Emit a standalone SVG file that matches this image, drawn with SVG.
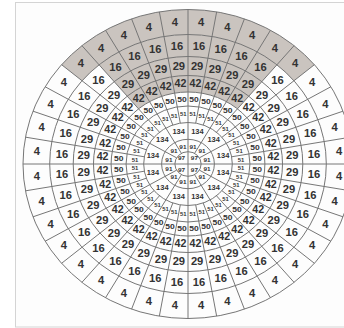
<svg xmlns="http://www.w3.org/2000/svg" width="344" height="328" viewBox="0 0 344 328">
<style>
.ln{stroke:#767676;stroke-width:1;fill:none}
text{font-family:"Liberation Sans",Arial,sans-serif;font-weight:bold;fill:#333333;text-anchor:middle;dominant-baseline:central}
.a text,.b text,.c text{font-size:10.5px}
.d text{font-size:10px}
.e text{font-size:8px}
.f text{font-size:5.5px}
.g text{font-size:7px}
.h text,.i text{font-size:6px}
</style>
<defs>
<line id="l10" x1="41.5" y1="0" x2="154.5" y2="0" stroke="#767676" stroke-width="1" vector-effect="non-scaling-stroke"/>
<line id="l30" x1="12.3" y1="0" x2="41.5" y2="0" stroke="#767676" stroke-width="1" vector-effect="non-scaling-stroke"/>
</defs>
<rect width="344" height="328" fill="#ffffff"/>
<rect x="15.5" y="2.5" width="340" height="324.5" fill="#fdfdfd" stroke="#d4d4d4"/>
<g transform="translate(188,164) scale(1.068,1)">
<g id="shade" fill="#cac4bf">
<path d="M-118.35-99.31A154.5 154.5 0 0 1 118.35-99.31L99.2-83.24A129.5 129.5 0 0 0-99.2-83.24Z"/>
<path d="M-83.24-99.2A129.5 129.5 0 0 1 83.24-99.2L46.28-55.16A72 72 0 0 0-46.28-55.16Z"/>
</g>
<g id="connectors" class="ln">
<circle r="154.5" vector-effect="non-scaling-stroke"/>
<circle r="129.5" vector-effect="non-scaling-stroke"/>
<circle r="107.5" vector-effect="non-scaling-stroke"/>
<circle r="88.5" vector-effect="non-scaling-stroke"/>
<circle r="72" vector-effect="non-scaling-stroke"/>
<circle r="58" vector-effect="non-scaling-stroke"/>
<circle r="41.5" vector-effect="non-scaling-stroke"/>
<circle r="24.7" vector-effect="non-scaling-stroke"/>
<circle r="12.3" vector-effect="non-scaling-stroke"/>
<use href="#l10"/><use href="#l10" transform="rotate(10)"/><use href="#l10" transform="rotate(20)"/><use href="#l10" transform="rotate(30)"/><use href="#l10" transform="rotate(40)"/><use href="#l10" transform="rotate(50)"/><use href="#l10" transform="rotate(60)"/><use href="#l10" transform="rotate(70)"/><use href="#l10" transform="rotate(80)"/><use href="#l10" transform="rotate(90)"/><use href="#l10" transform="rotate(100)"/><use href="#l10" transform="rotate(110)"/><use href="#l10" transform="rotate(120)"/><use href="#l10" transform="rotate(130)"/><use href="#l10" transform="rotate(140)"/><use href="#l10" transform="rotate(150)"/><use href="#l10" transform="rotate(160)"/><use href="#l10" transform="rotate(170)"/><use href="#l10" transform="rotate(180)"/><use href="#l10" transform="rotate(190)"/><use href="#l10" transform="rotate(200)"/><use href="#l10" transform="rotate(210)"/><use href="#l10" transform="rotate(220)"/><use href="#l10" transform="rotate(230)"/><use href="#l10" transform="rotate(240)"/><use href="#l10" transform="rotate(250)"/><use href="#l10" transform="rotate(260)"/><use href="#l10" transform="rotate(270)"/><use href="#l10" transform="rotate(280)"/><use href="#l10" transform="rotate(290)"/><use href="#l10" transform="rotate(300)"/><use href="#l10" transform="rotate(310)"/><use href="#l10" transform="rotate(320)"/><use href="#l10" transform="rotate(330)"/><use href="#l10" transform="rotate(340)"/><use href="#l10" transform="rotate(350)"/>
<use href="#l30"/><use href="#l30" transform="rotate(30)"/><use href="#l30" transform="rotate(60)"/><use href="#l30" transform="rotate(90)"/><use href="#l30" transform="rotate(120)"/><use href="#l30" transform="rotate(150)"/><use href="#l30" transform="rotate(180)"/><use href="#l30" transform="rotate(210)"/><use href="#l30" transform="rotate(240)"/><use href="#l30" transform="rotate(270)"/><use href="#l30" transform="rotate(300)"/><use href="#l30" transform="rotate(330)"/>
<line x1="-12.3" y1="0" x2="12.3" y2="0" vector-effect="non-scaling-stroke"/>
<line x1="0" y1="-12.3" x2="0" y2="12.3" vector-effect="non-scaling-stroke"/>
</g>
<g id="ring4" class="a">
<text transform="rotate(5)translate(142)rotate(-5)">4</text><text transform="rotate(15)translate(142)rotate(-15)">4</text><text transform="rotate(25)translate(142)rotate(-25)">4</text><text transform="rotate(35)translate(142)rotate(-35)">4</text><text transform="rotate(45)translate(142)rotate(-45)">4</text><text transform="rotate(55)translate(142)rotate(-55)">4</text><text transform="rotate(65)translate(142)rotate(-65)">4</text><text transform="rotate(75)translate(142)rotate(-75)">4</text><text transform="rotate(85)translate(142)rotate(-85)">4</text><text transform="rotate(95)translate(142)rotate(-95)">4</text><text transform="rotate(105)translate(142)rotate(-105)">4</text><text transform="rotate(115)translate(142)rotate(-115)">4</text><text transform="rotate(125)translate(142)rotate(-125)">4</text><text transform="rotate(135)translate(142)rotate(-135)">4</text><text transform="rotate(145)translate(142)rotate(-145)">4</text><text transform="rotate(155)translate(142)rotate(-155)">4</text><text transform="rotate(165)translate(142)rotate(-165)">4</text><text transform="rotate(175)translate(142)rotate(-175)">4</text><text transform="rotate(185)translate(142)rotate(-185)">4</text><text transform="rotate(195)translate(142)rotate(-195)">4</text><text transform="rotate(205)translate(142)rotate(-205)">4</text><text transform="rotate(215)translate(142)rotate(-215)">4</text><text transform="rotate(225)translate(142)rotate(-225)">4</text><text transform="rotate(235)translate(142)rotate(-235)">4</text><text transform="rotate(245)translate(142)rotate(-245)">4</text><text transform="rotate(255)translate(142)rotate(-255)">4</text><text transform="rotate(265)translate(142)rotate(-265)">4</text><text transform="rotate(275)translate(142)rotate(-275)">4</text><text transform="rotate(285)translate(142)rotate(-285)">4</text><text transform="rotate(295)translate(142)rotate(-295)">4</text><text transform="rotate(305)translate(142)rotate(-305)">4</text><text transform="rotate(315)translate(142)rotate(-315)">4</text><text transform="rotate(325)translate(142)rotate(-325)">4</text><text transform="rotate(335)translate(142)rotate(-335)">4</text><text transform="rotate(345)translate(142)rotate(-345)">4</text><text transform="rotate(355)translate(142)rotate(-355)">4</text>
</g>
<g id="ring16" class="b">
<text transform="rotate(5)translate(118.5)rotate(-5)">16</text><text transform="rotate(15)translate(118.5)rotate(-15)">16</text><text transform="rotate(25)translate(118.5)rotate(-25)">16</text><text transform="rotate(35)translate(118.5)rotate(-35)">16</text><text transform="rotate(45)translate(118.5)rotate(-45)">16</text><text transform="rotate(55)translate(118.5)rotate(-55)">16</text><text transform="rotate(65)translate(118.5)rotate(-65)">16</text><text transform="rotate(75)translate(118.5)rotate(-75)">16</text><text transform="rotate(85)translate(118.5)rotate(-85)">16</text><text transform="rotate(95)translate(118.5)rotate(-95)">16</text><text transform="rotate(105)translate(118.5)rotate(-105)">16</text><text transform="rotate(115)translate(118.5)rotate(-115)">16</text><text transform="rotate(125)translate(118.5)rotate(-125)">16</text><text transform="rotate(135)translate(118.5)rotate(-135)">16</text><text transform="rotate(145)translate(118.5)rotate(-145)">16</text><text transform="rotate(155)translate(118.5)rotate(-155)">16</text><text transform="rotate(165)translate(118.5)rotate(-165)">16</text><text transform="rotate(175)translate(118.5)rotate(-175)">16</text><text transform="rotate(185)translate(118.5)rotate(-185)">16</text><text transform="rotate(195)translate(118.5)rotate(-195)">16</text><text transform="rotate(205)translate(118.5)rotate(-205)">16</text><text transform="rotate(215)translate(118.5)rotate(-215)">16</text><text transform="rotate(225)translate(118.5)rotate(-225)">16</text><text transform="rotate(235)translate(118.5)rotate(-235)">16</text><text transform="rotate(245)translate(118.5)rotate(-245)">16</text><text transform="rotate(255)translate(118.5)rotate(-255)">16</text><text transform="rotate(265)translate(118.5)rotate(-265)">16</text><text transform="rotate(275)translate(118.5)rotate(-275)">16</text><text transform="rotate(285)translate(118.5)rotate(-285)">16</text><text transform="rotate(295)translate(118.5)rotate(-295)">16</text><text transform="rotate(305)translate(118.5)rotate(-305)">16</text><text transform="rotate(315)translate(118.5)rotate(-315)">16</text><text transform="rotate(325)translate(118.5)rotate(-325)">16</text><text transform="rotate(335)translate(118.5)rotate(-335)">16</text><text transform="rotate(345)translate(118.5)rotate(-345)">16</text><text transform="rotate(355)translate(118.5)rotate(-355)">16</text>
</g>
<g id="ring29" class="c">
<text transform="rotate(5)translate(98)rotate(-5)">29</text><text transform="rotate(15)translate(98)rotate(-15)">29</text><text transform="rotate(25)translate(98)rotate(-25)">29</text><text transform="rotate(35)translate(98)rotate(-35)">29</text><text transform="rotate(45)translate(98)rotate(-45)">29</text><text transform="rotate(55)translate(98)rotate(-55)">29</text><text transform="rotate(65)translate(98)rotate(-65)">29</text><text transform="rotate(75)translate(98)rotate(-75)">29</text><text transform="rotate(85)translate(98)rotate(-85)">29</text><text transform="rotate(95)translate(98)rotate(-95)">29</text><text transform="rotate(105)translate(98)rotate(-105)">29</text><text transform="rotate(115)translate(98)rotate(-115)">29</text><text transform="rotate(125)translate(98)rotate(-125)">29</text><text transform="rotate(135)translate(98)rotate(-135)">29</text><text transform="rotate(145)translate(98)rotate(-145)">29</text><text transform="rotate(155)translate(98)rotate(-155)">29</text><text transform="rotate(165)translate(98)rotate(-165)">29</text><text transform="rotate(175)translate(98)rotate(-175)">29</text><text transform="rotate(185)translate(98)rotate(-185)">29</text><text transform="rotate(195)translate(98)rotate(-195)">29</text><text transform="rotate(205)translate(98)rotate(-205)">29</text><text transform="rotate(215)translate(98)rotate(-215)">29</text><text transform="rotate(225)translate(98)rotate(-225)">29</text><text transform="rotate(235)translate(98)rotate(-235)">29</text><text transform="rotate(245)translate(98)rotate(-245)">29</text><text transform="rotate(255)translate(98)rotate(-255)">29</text><text transform="rotate(265)translate(98)rotate(-265)">29</text><text transform="rotate(275)translate(98)rotate(-275)">29</text><text transform="rotate(285)translate(98)rotate(-285)">29</text><text transform="rotate(295)translate(98)rotate(-295)">29</text><text transform="rotate(305)translate(98)rotate(-305)">29</text><text transform="rotate(315)translate(98)rotate(-315)">29</text><text transform="rotate(325)translate(98)rotate(-325)">29</text><text transform="rotate(335)translate(98)rotate(-335)">29</text><text transform="rotate(345)translate(98)rotate(-345)">29</text><text transform="rotate(355)translate(98)rotate(-355)">29</text>
</g>
<g id="ring42" class="d">
<text transform="rotate(5)translate(80.3)rotate(-5)">42</text><text transform="rotate(15)translate(80.3)rotate(-15)">42</text><text transform="rotate(25)translate(80.3)rotate(-25)">42</text><text transform="rotate(35)translate(80.3)rotate(-35)">42</text><text transform="rotate(45)translate(80.3)rotate(-45)">42</text><text transform="rotate(55)translate(80.3)rotate(-55)">42</text><text transform="rotate(65)translate(80.3)rotate(-65)">42</text><text transform="rotate(75)translate(80.3)rotate(-75)">42</text><text transform="rotate(85)translate(80.3)rotate(-85)">42</text><text transform="rotate(95)translate(80.3)rotate(-95)">42</text><text transform="rotate(105)translate(80.3)rotate(-105)">42</text><text transform="rotate(115)translate(80.3)rotate(-115)">42</text><text transform="rotate(125)translate(80.3)rotate(-125)">42</text><text transform="rotate(135)translate(80.3)rotate(-135)">42</text><text transform="rotate(145)translate(80.3)rotate(-145)">42</text><text transform="rotate(155)translate(80.3)rotate(-155)">42</text><text transform="rotate(165)translate(80.3)rotate(-165)">42</text><text transform="rotate(175)translate(80.3)rotate(-175)">42</text><text transform="rotate(185)translate(80.3)rotate(-185)">42</text><text transform="rotate(195)translate(80.3)rotate(-195)">42</text><text transform="rotate(205)translate(80.3)rotate(-205)">42</text><text transform="rotate(215)translate(80.3)rotate(-215)">42</text><text transform="rotate(225)translate(80.3)rotate(-225)">42</text><text transform="rotate(235)translate(80.3)rotate(-235)">42</text><text transform="rotate(245)translate(80.3)rotate(-245)">42</text><text transform="rotate(255)translate(80.3)rotate(-255)">42</text><text transform="rotate(265)translate(80.3)rotate(-265)">42</text><text transform="rotate(275)translate(80.3)rotate(-275)">42</text><text transform="rotate(285)translate(80.3)rotate(-285)">42</text><text transform="rotate(295)translate(80.3)rotate(-295)">42</text><text transform="rotate(305)translate(80.3)rotate(-305)">42</text><text transform="rotate(315)translate(80.3)rotate(-315)">42</text><text transform="rotate(325)translate(80.3)rotate(-325)">42</text><text transform="rotate(335)translate(80.3)rotate(-335)">42</text><text transform="rotate(345)translate(80.3)rotate(-345)">42</text><text transform="rotate(355)translate(80.3)rotate(-355)">42</text>
</g>
<g id="ring50" class="e">
<text transform="rotate(5)translate(65)rotate(-5)">50</text><text transform="rotate(15)translate(65)rotate(-15)">50</text><text transform="rotate(25)translate(65)rotate(-25)">50</text><text transform="rotate(35)translate(65)rotate(-35)">50</text><text transform="rotate(45)translate(65)rotate(-45)">50</text><text transform="rotate(55)translate(65)rotate(-55)">50</text><text transform="rotate(65)translate(65)rotate(-65)">50</text><text transform="rotate(75)translate(65)rotate(-75)">50</text><text transform="rotate(85)translate(65)rotate(-85)">50</text><text transform="rotate(95)translate(65)rotate(-95)">50</text><text transform="rotate(105)translate(65)rotate(-105)">50</text><text transform="rotate(115)translate(65)rotate(-115)">50</text><text transform="rotate(125)translate(65)rotate(-125)">50</text><text transform="rotate(135)translate(65)rotate(-135)">50</text><text transform="rotate(145)translate(65)rotate(-145)">50</text><text transform="rotate(155)translate(65)rotate(-155)">50</text><text transform="rotate(165)translate(65)rotate(-165)">50</text><text transform="rotate(175)translate(65)rotate(-175)">50</text><text transform="rotate(185)translate(65)rotate(-185)">50</text><text transform="rotate(195)translate(65)rotate(-195)">50</text><text transform="rotate(205)translate(65)rotate(-205)">50</text><text transform="rotate(215)translate(65)rotate(-215)">50</text><text transform="rotate(225)translate(65)rotate(-225)">50</text><text transform="rotate(235)translate(65)rotate(-235)">50</text><text transform="rotate(245)translate(65)rotate(-245)">50</text><text transform="rotate(255)translate(65)rotate(-255)">50</text><text transform="rotate(265)translate(65)rotate(-265)">50</text><text transform="rotate(275)translate(65)rotate(-275)">50</text><text transform="rotate(285)translate(65)rotate(-285)">50</text><text transform="rotate(295)translate(65)rotate(-295)">50</text><text transform="rotate(305)translate(65)rotate(-305)">50</text><text transform="rotate(315)translate(65)rotate(-315)">50</text><text transform="rotate(325)translate(65)rotate(-325)">50</text><text transform="rotate(335)translate(65)rotate(-335)">50</text><text transform="rotate(345)translate(65)rotate(-345)">50</text><text transform="rotate(355)translate(65)rotate(-355)">50</text>
</g>
<g id="ring51" class="f">
<text transform="rotate(5)translate(49.8)rotate(-5)">51</text><text transform="rotate(15)translate(49.8)rotate(-15)">51</text><text transform="rotate(25)translate(49.8)rotate(-25)">51</text><text transform="rotate(35)translate(49.8)rotate(-35)">51</text><text transform="rotate(45)translate(49.8)rotate(-45)">51</text><text transform="rotate(55)translate(49.8)rotate(-55)">51</text><text transform="rotate(65)translate(49.8)rotate(-65)">51</text><text transform="rotate(75)translate(49.8)rotate(-75)">51</text><text transform="rotate(85)translate(49.8)rotate(-85)">51</text><text transform="rotate(95)translate(49.8)rotate(-95)">51</text><text transform="rotate(105)translate(49.8)rotate(-105)">51</text><text transform="rotate(115)translate(49.8)rotate(-115)">51</text><text transform="rotate(125)translate(49.8)rotate(-125)">51</text><text transform="rotate(135)translate(49.8)rotate(-135)">51</text><text transform="rotate(145)translate(49.8)rotate(-145)">51</text><text transform="rotate(155)translate(49.8)rotate(-155)">51</text><text transform="rotate(165)translate(49.8)rotate(-165)">51</text><text transform="rotate(175)translate(49.8)rotate(-175)">51</text><text transform="rotate(185)translate(49.8)rotate(-185)">51</text><text transform="rotate(195)translate(49.8)rotate(-195)">51</text><text transform="rotate(205)translate(49.8)rotate(-205)">51</text><text transform="rotate(215)translate(49.8)rotate(-215)">51</text><text transform="rotate(225)translate(49.8)rotate(-225)">51</text><text transform="rotate(235)translate(49.8)rotate(-235)">51</text><text transform="rotate(245)translate(49.8)rotate(-245)">51</text><text transform="rotate(255)translate(49.8)rotate(-255)">51</text><text transform="rotate(265)translate(49.8)rotate(-265)">51</text><text transform="rotate(275)translate(49.8)rotate(-275)">51</text><text transform="rotate(285)translate(49.8)rotate(-285)">51</text><text transform="rotate(295)translate(49.8)rotate(-295)">51</text><text transform="rotate(305)translate(49.8)rotate(-305)">51</text><text transform="rotate(315)translate(49.8)rotate(-315)">51</text><text transform="rotate(325)translate(49.8)rotate(-325)">51</text><text transform="rotate(335)translate(49.8)rotate(-335)">51</text><text transform="rotate(345)translate(49.8)rotate(-345)">51</text><text transform="rotate(355)translate(49.8)rotate(-355)">51</text>
</g>
<g id="ring134" class="g">
<text transform="rotate(15)translate(34)rotate(-15)">134</text><text transform="rotate(45)translate(34)rotate(-45)">134</text><text transform="rotate(75)translate(34)rotate(-75)">134</text><text transform="rotate(105)translate(34)rotate(-105)">134</text><text transform="rotate(135)translate(34)rotate(-135)">134</text><text transform="rotate(165)translate(34)rotate(-165)">134</text><text transform="rotate(195)translate(34)rotate(-195)">134</text><text transform="rotate(225)translate(34)rotate(-225)">134</text><text transform="rotate(255)translate(34)rotate(-255)">134</text><text transform="rotate(285)translate(34)rotate(-285)">134</text><text transform="rotate(315)translate(34)rotate(-315)">134</text><text transform="rotate(345)translate(34)rotate(-345)">134</text>
</g>
<g id="ring91" class="h">
<text transform="rotate(15)translate(18.5)rotate(-15)">91</text><text transform="rotate(45)translate(18.5)rotate(-45)">91</text><text transform="rotate(75)translate(18.5)rotate(-75)">91</text><text transform="rotate(105)translate(18.5)rotate(-105)">91</text><text transform="rotate(135)translate(18.5)rotate(-135)">91</text><text transform="rotate(165)translate(18.5)rotate(-165)">91</text><text transform="rotate(195)translate(18.5)rotate(-195)">91</text><text transform="rotate(225)translate(18.5)rotate(-225)">91</text><text transform="rotate(255)translate(18.5)rotate(-255)">91</text><text transform="rotate(285)translate(18.5)rotate(-285)">91</text><text transform="rotate(315)translate(18.5)rotate(-315)">91</text><text transform="rotate(345)translate(18.5)rotate(-345)">91</text>
</g>
<g id="ring97" class="i">
<text transform="rotate(45)translate(8.5)rotate(-45)">97</text><text transform="rotate(135)translate(8.5)rotate(-135)">97</text><text transform="rotate(225)translate(8.5)rotate(-225)">97</text><text transform="rotate(315)translate(8.5)rotate(-315)">97</text>
</g>
</g>
</svg>
